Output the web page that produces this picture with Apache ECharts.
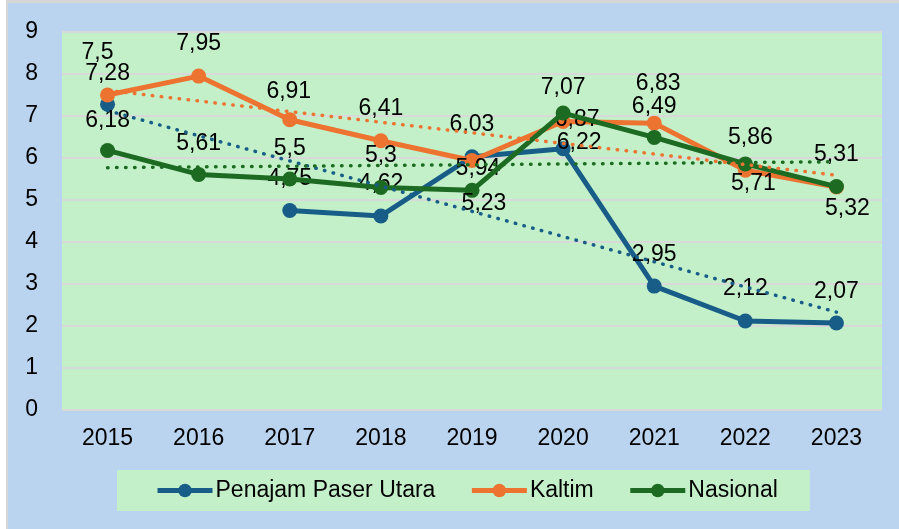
<!DOCTYPE html>
<html>
<head>
<meta charset="utf-8">
<script src="https://cdn.jsdelivr.net/npm/echarts@6/dist/echarts.min.js"></script>
<style>
html,body{margin:0;padding:0;background:#ffffff;}
#frame{position:absolute;left:6px;top:0;width:893px;height:529px;background:#D6D6D6;}
#bg{position:absolute;left:8px;top:3px;width:891px;height:526px;background:#BAD4F0;}
#chart{position:absolute;left:0;top:0;width:899px;height:529px;}
</style>
</head>
<body>
<div id="frame"></div>
<div id="bg"></div>
<div id="chart"></div>
<script>
// ---- data ----
const years = ['2015','2016','2017','2018','2019','2020','2021','2022','2023'];
const ppu = [7.28, null, 4.75, 4.62, 6.03, 6.22, 2.95, 2.12, 2.07];
const kaltim = [7.5, 7.95, 6.91, 6.41, 5.94, 6.87, 6.83, 5.71, 5.31];
const nasional = [6.18, 5.61, 5.5, 5.3, 5.23, 7.07, 6.49, 5.86, 5.32];
// linear trend lines (value at 2015, value at 2023)
const ppuTrend = [7.13, 2.33];
const kaltimTrend = [7.61, 5.59];
const nasionalTrend = [5.77, 5.91];
const yTicks = ['0','1','2','3','4','5','6','7','8','9'];
const seriesNames = ['Penajam Paser Utara', 'Kaltim', 'Nasional'];

// ---- label placement (style) ----
const ppuLabelOffset = [[0,-31],null,[0,-32],[0,-32],[0,-32],[16,-6],[0,-31],[0,-32],[0,-31]];
const kaltimLabelOffset = [[-10,-42],[0,-32],[-1,-28],[0,-32],[6,8],[14,-2],[4,-39],[8,13],[0,-32]];
const nasionalLabelOffset = [[0,-30],[0,-31],[0,-30],[0,-32],[12,13],[0,-25],[0,-31],[5,-26],[11,22]];

const FONT = "'Liberation Sans', Arial, sans-serif";
const FS = 23;
const colors = ['#175D88', '#ED7331', '#1D6B22'];

function fmt(v){ return String(v).replace('.', ','); }

function buildData(values, offsets){
  return values.map((v,i) => {
    if (v === null) return null;
    return { value: v, label: { offset: offsets[i] } };
  });
}
function trendData(tr){
  const arr = years.map(() => null);
  arr[0] = tr[0];
  arr[arr.length-1] = tr[1];
  return arr;
}

function mainSeries(name, values, offsets, color, z){
  return {
    name: name,
    type: 'line',
    data: buildData(values, offsets),
    symbol: 'circle',
    symbolSize: 15,
    showAllSymbol: true,
    connectNulls: false,
    z: z,
    lineStyle: { color: color, width: 5 },
    itemStyle: { color: color },
    label: {
      show: true,
      position: 'inside',
      formatter: p => fmt(p.value),
      color: '#000000',
      fontSize: FS,
      fontFamily: FONT
    },
    emphasis: { disabled: true },
    animation: false
  };
}
function trendSeries(name, tr, color){
  return {
    name: name,
    type: 'line',
    data: trendData(tr),
    connectNulls: true,
    symbol: 'none',
    silent: true,
    z: 5,
    lineStyle: { color: color, width: 3.5, type: [0.5, 8.5], cap: 'round' },
    emphasis: { disabled: true },
    animation: false
  };
}

const chart = echarts.init(document.getElementById('chart'), null, { renderer: 'canvas' });
chart.setOption({
  backgroundColor: 'transparent',
  animation: false,
  grid: {
    left: 62, right: 17, top: 32, bottom: 119,
    show: true, backgroundColor: '#C3F0C8', borderWidth: 0
  },
  xAxis: {
    type: 'category',
    data: years,
    boundaryGap: true,
    axisLine: { show: false },
    axisTick: { show: false },
    axisLabel: { color: '#000', fontSize: FS, fontFamily: FONT, margin: 17 }
  },
  yAxis: {
    type: 'value',
    min: 0, max: 9, interval: 1,
    axisLine: { show: false },
    axisTick: { show: false },
    splitLine: { lineStyle: { color: '#D9D9D9', width: 2 } },
    axisLabel: { color: '#000', fontSize: FS, fontFamily: FONT, margin: 24,
      formatter: (v) => yTicks[Math.round(v)] }
  },
  legend: {
    data: seriesNames,
    left: 117, top: 470,
    padding: [9, 32, 9, 38],
    backgroundColor: '#C3F0C8',
    itemWidth: 55, itemHeight: 17, itemGap: 34,
    lineStyle: { width: 5 },
    textStyle: { color: '#000', fontSize: FS, fontFamily: FONT, padding: [0,0,0,-2] }
  },
  series: [
    trendSeries('ppuTrend', ppuTrend, colors[0]),
    trendSeries('kaltimTrend', kaltimTrend, colors[1]),
    trendSeries('nasionalTrend', nasionalTrend, colors[2]),
    mainSeries(seriesNames[0], ppu, ppuLabelOffset, colors[0], 2),
    mainSeries(seriesNames[1], kaltim, kaltimLabelOffset, colors[1], 3),
    mainSeries(seriesNames[2], nasional, nasionalLabelOffset, colors[2], 4)
  ]
});
</script>
</body>
</html>
